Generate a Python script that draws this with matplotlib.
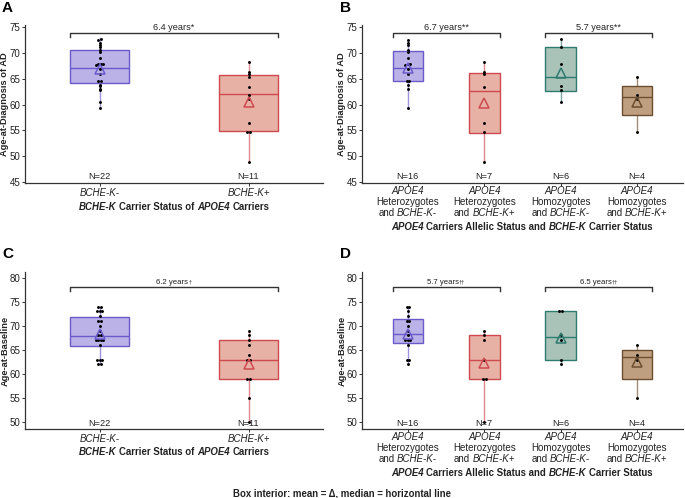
import numpy as np
import matplotlib.pyplot as plt
from matplotlib.offsetbox import TextArea, HPacker, VPacker, AnnotationBbox

plt.rcParams['font.family'] = ['Liberation Sans', 'DejaVu Sans']

# ---- data ----
# age at diagnosis of AD
dx_het_neg = [72.5, 72.0, 71.5, 70.5, 70.1, 69.0, 67.8, 67.8, 67.7, 66.8, 66.0, 64.5, 64.5, 63.7, 63.0, 59.4]
dx_het_pos = [68.3, 66.3, 66.0, 63.3, 56.5, 54.6, 48.9]
dx_hom_neg = [72.6, 71.2, 67.8, 63.5, 62.8, 60.4]
dx_hom_pos = [65.3, 61.8, 61.0, 54.7]
# age at baseline
bl_het_neg = [74, 74, 73, 72, 71, 71, 70, 69, 68, 67, 67, 67, 66, 63, 63, 62]
bl_het_pos = [69, 68, 67, 63, 59, 59, 50]
bl_hom_neg = [73, 73, 68, 67, 63, 62]
bl_hom_pos = [66, 64, 63, 55]

# box statistics (q1, median, q3, whisker low, whisker high, mean)
A_q1 = [64.1, 54.85]; A_med = [67.15, 61.95]; A_q3 = [70.6, 65.8]
A_lo = [59.4, 48.9]; A_hi = [72.8, 68.4]; A_mean = [66.8, 60.5]
B_q1 = [64.5, 54.45, 62.6, 57.9]; B_med = [67.1, 62.7, 65.4, 61.4]; B_q3 = [70.3, 66.2, 71.2, 63.6]
B_lo = [59.4, 48.9, 60.4, 54.7]; B_hi = [72.5, 68.3, 72.6, 65.3]; B_mean = [67.0, 60.3, 66.2, 60.5]
C_q1 = [65.9, 59.0]; C_med = [67.9, 63.0]; C_q3 = [71.9, 67.0]
C_lo = [62, 50]; C_hi = [74, 69]; C_mean = [68.3, 62.0]
D_q1 = [66.4, 58.9, 63.0, 59.0]; D_med = [68.4, 63.0, 67.6, 63.5]; D_q3 = [71.5, 68.0, 73.0, 65.0]
D_lo = [62, 50, 62, 55]; D_hi = [74, 69, 73, 66]; D_mean = [68.3, 62.2, 67.5, 62.4]

n_two = ["N=22", "N=11"]
n_four = ["N=16", "N=7", "N=6", "N=4"]
two_labels = ["BCHE-K-", "BCHE-K+"]
four_labels = [("Heterozygotes", "BCHE-K-"), ("Heterozygotes", "BCHE-K+"),
               ("Homozygotes", "BCHE-K-"), ("Homozygotes", "BCHE-K+")]

edge = {'purple': '#6A5BCB', 'red': '#CF4A4F', 'teal': '#2F7B70', 'brown': '#6E4E30'}
fill = {'purple': '#BBB3E8', 'red': '#E8B1A6', 'teal': '#A9C3B9', 'brown': '#BE9F80'}

W, H = 685, 498
fig = plt.figure(figsize=(W / 100, H / 100), dpi=100)
TXT = '#222222'


def ax_at(l, t, r, b):
    return fig.add_axes([l / W, 1 - b / H, (r - l) / W, (b - t) / H])


def rich(x, y, lines, size, coords=('data', 'figure pixels'), color=TXT, sep=1.7):
    rows = []
    for line in lines:
        parts = [TextArea(t, textprops=dict(fontsize=size, fontstyle=st, fontweight=wt, color=color))
                 for t, st, wt in line]
        rows.append(HPacker(children=parts, align='baseline', pad=0, sep=sep))
    box = VPacker(children=rows, align='center', pad=0, sep=0.6)
    return AnnotationBbox(box, (x, y), xycoords=coords, frameon=False, box_alignment=(0.5, 0.5),
                          annotation_clip=False)


def stack_x(vals, pos, dx, tol):
    vals = np.asarray(vals, float)
    order = np.argsort(vals)
    xs = np.full(len(vals), float(pos))
    groups, cur = [], [order[0]]
    for i in order[1:]:
        if vals[i] - vals[cur[-1]] <= tol:
            cur.append(i)
        else:
            groups.append(cur)
            cur = [i]
    groups.append(cur)
    for g in groups:
        k = len(g)
        xs[g] = pos + (np.arange(k) - (k - 1) / 2) * dx
    return xs


def panel(ax, groups, q1, med, q3, lo, hi, mean, cols, xlim, ylim, yticks, ylabel, ylab_x,
          nlab, n_y, brackets, br_y, br_drop, br_size, tol, wpx):
    pos = np.arange(1, len(groups) + 1)
    stats = [dict(q1=a, med=b, q3=c, whislo=d, whishi=e, fliers=[]) for a, b, c, d, e in zip(q1, med, q3, lo, hi)]
    bp = ax.bxp(stats, positions=pos, widths=0.4, patch_artist=True, showfliers=False, showcaps=False)
    for i, c in enumerate(cols):
        bp['boxes'][i].set(facecolor=fill[c], edgecolor=edge[c], linewidth=1.0, zorder=2)
        bp['medians'][i].set(color=edge[c], linewidth=1.0, zorder=3)
        for wl in bp['whiskers'][2 * i:2 * i + 2]:
            wl.set(color=edge[c], alpha=0.65, linewidth=1.0, zorder=1)
    dx = 2.6 / wpx * (xlim[1] - xlim[0])
    for i, g in enumerate(groups):
        ax.plot(stack_x(g, pos[i], dx, tol), g, 'o', color='black', ms=2.1, mew=0, zorder=4)
        ax.plot(pos[i], mean[i], marker='^', ms=6.5, mfc='none', mec=edge[cols[i]], mew=1.1, zorder=5)
        ax.text(pos[i], n_y, nlab[i], ha='center', va='bottom', fontsize=6.6, color=TXT)
    for x0, x1, txt, sup in brackets:
        ax.plot([x0 - 0.2, x0 - 0.2, x1 + 0.2, x1 + 0.2], [br_y - br_drop, br_y, br_y, br_y - br_drop],
                color='#333333', lw=1.0, clip_on=False)
        if '*' in sup:
            ax.text((x0 + x1) / 2, br_y + br_drop * 0.25, txt + sup, ha='center', va='bottom',
                    fontsize=br_size, color=TXT)
        else:
            t1 = TextArea(txt, textprops=dict(fontsize=br_size, color=TXT))
            t2 = TextArea(sup, textprops=dict(fontsize=br_size * 0.75, color=TXT))
            hb = HPacker(children=[t1, t2], align='top', pad=0, sep=0.3)
            ab = AnnotationBbox(hb, ((x0 + x1) / 2, br_y + br_drop * 0.25), xycoords='data', frameon=False,
                                box_alignment=(0.5, 0), annotation_clip=False)
            ax.add_artist(ab)
    ax.set_xlim(*xlim)
    ax.set_ylim(*ylim)
    ax.set_yticks(yticks)
    ax.set_xticks(pos)
    ax.set_xticklabels([])
    ax.tick_params(length=2.5, width=0.7, color='#333333', labelsize=7, labelcolor=TXT, pad=1)
    for s in ['top', 'right']:
        ax.spines[s].set_visible(False)
    for s in ['left', 'bottom']:
        ax.spines[s].set(color='#333333', linewidth=0.9)
    ax.set_facecolor('none')
    bb = ax.get_position()
    fig.text(ylab_x / W, (bb.y0 + bb.y1) / 2, ylabel, rotation=90, ha='center', va='center',
             fontsize=6.7, fontweight='bold', color=TXT)


axA = ax_at(25, 25, 323, 183)
axB = ax_at(362, 25, 683, 183)
axC = ax_at(25, 272, 323, 429.3)
axD = ax_at(362, 272, 683, 429.3)

panel(axA, [dx_het_neg + dx_hom_neg, dx_het_pos + dx_hom_pos], A_q1, A_med, A_q3, A_lo, A_hi, A_mean,
      ['purple', 'red'], (0.5, 2.5), (44.8, 75.4), [45, 50, 55, 60, 65, 70, 75], 'Age-at-Diagnosis of AD', 5,
      n_two, 45.1, [(1, 2, '6.4 years', '*')], 73.85, 0.8, 6.6, 0.15, 298)
panel(axB, [dx_het_neg, dx_het_pos, dx_hom_neg, dx_hom_pos], B_q1, B_med, B_q3, B_lo, B_hi, B_mean,
      ['purple', 'red', 'teal', 'brown'], (0.4, 4.6), (44.8, 75.4), [45, 50, 55, 60, 65, 70, 75],
      'Age-at-Diagnosis of AD', 342, n_four, 45.1,
      [(1, 2, '6.7 years', '**'), (3, 4, '5.7 years', '**')], 73.85, 0.8, 6.6, 0.15, 321)
panel(axC, [bl_het_neg + bl_hom_neg, bl_het_pos + bl_hom_pos], C_q1, C_med, C_q3, C_lo, C_hi, C_mean,
      ['purple', 'red'], (0.5, 2.5), (48.5, 81.2), [50, 55, 60, 65, 70, 75, 80], 'Age-at-Baseline', 5,
      n_two, 48.75, [(1, 2, '6.2 years', '†')], 78.05, 0.8, 5.6, 0.1, 298)
panel(axD, [bl_het_neg, bl_het_pos, bl_hom_neg, bl_hom_pos], D_q1, D_med, D_q3, D_lo, D_hi, D_mean,
      ['purple', 'red', 'teal', 'brown'], (0.4, 4.6), (48.5, 81.2), [50, 55, 60, 65, 70, 75, 80],
      'Age-at-Baseline', 342, n_four, 48.75,
      [(1, 2, '5.7 years', '††'), (3, 4, '6.5 years', '††')], 78.05, 0.8, 5.6, 0.1, 321)

# x category labels
for ax, ytop in [(axA, 193), (axC, 439)]:
    for i, lab in enumerate(two_labels):
        fig.add_artist(rich(i + 1, H - ytop, [[(lab, 'italic', 'normal')]], 7, coords=(ax.transData, 'figure pixels')))
for ax, ytop in [(axB, 202), (axD, 448.3)]:
    for i, (kind, lab) in enumerate(four_labels):
        lines = [[('APOE4', 'italic', 'normal')], [(kind, 'normal', 'normal')],
                 [('and', 'normal', 'normal'), (lab, 'italic', 'normal')]]
        fig.add_artist(rich(i + 1, H - ytop, lines, 7, coords=(ax.transData, 'figure pixels')))

# axis titles
title_two = [[('BCHE-K', 'italic', 'bold'), ('Carrier Status of', 'normal', 'bold'),
              ('APOE4', 'italic', 'bold'), ('Carriers', 'normal', 'bold')]]
title_four = [[('APOE4', 'italic', 'bold'), ('Carriers Allelic Status and', 'normal', 'bold'),
               ('BCHE-K', 'italic', 'bold'), ('Carrier Status', 'normal', 'bold')]]
fig.add_artist(rich(174, H - 207, title_two, 6.9, coords='figure pixels', sep=1.9))
fig.add_artist(rich(522, H - 226.5, title_four, 6.9, coords='figure pixels', sep=1.9))
fig.add_artist(rich(174, H - 452, title_two, 6.9, coords='figure pixels', sep=1.9))
fig.add_artist(rich(522, H - 472.5, title_four, 6.9, coords='figure pixels', sep=1.9))

# panel letters
for lab, x, y in [('A', 2, 8.5), ('B', 340, 8.5), ('C', 2, 254), ('D', 340, 254)]:
    fig.text(x / W, 1 - y / H, lab, fontsize=11, fontweight='bold', ha='left', va='center', color='black')

fig.text(342 / W, 1 - 493 / H, 'Box interior: mean = Δ, median = horizontal line', ha='center', va='center',
         fontsize=6.9, fontweight='bold', color=TXT)

fig.savefig('out.png', dpi=100)
